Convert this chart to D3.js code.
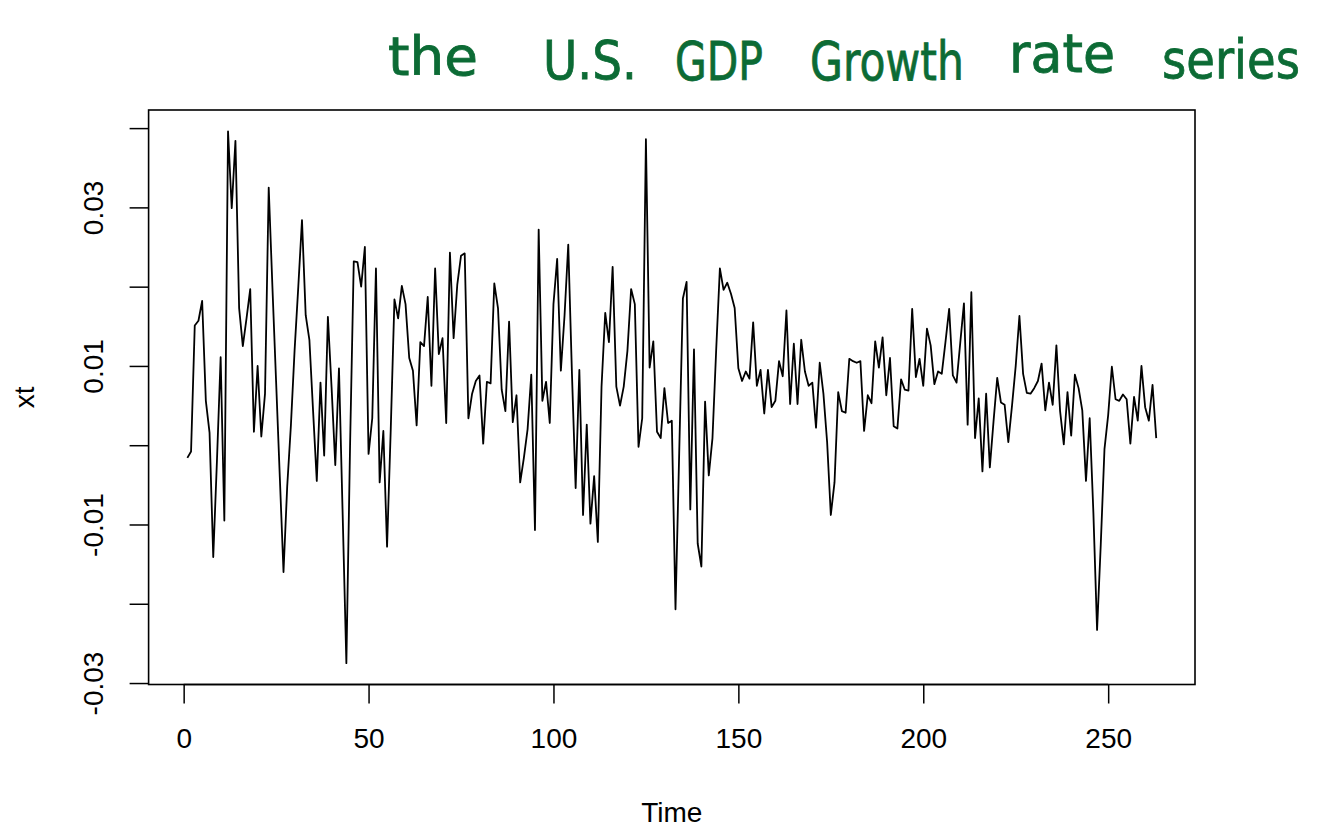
<!DOCTYPE html>
<html>
<head>
<meta charset="utf-8">
<script src="https://cdn.jsdelivr.net/npm/d3@7"></script>
<style>
  body { margin: 0; background: #ffffff; }
  svg { display: block; }
  text { font-family: "Liberation Sans", Arial, Helvetica, sans-serif; }
</style>
</head>
<body>
<div id="chart"></div>
<script>
// quarterly growth rate (t = 1 ... 263)
var gdpGrowth = [
  -0.0016, -0.0008, 0.0151, 0.0157, 0.0182, 0.0056, 0.0016, -0.0141, -0.0020, 0.0111,
  -0.0095, 0.0396, 0.0299, 0.0384, 0.0173, 0.0125, 0.0160, 0.0197, 0.0017, 0.0100,
  0.0011, 0.0065, 0.0325, 0.0200, 0.0080, -0.0040, -0.0160, -0.0052, 0.0025, 0.0120,
  0.0200, 0.0284, 0.0164, 0.0133, 0.0043, -0.0045, 0.0079, -0.0013, 0.0162, 0.0073,
  -0.0025, 0.0097, -0.0088, -0.0275, 0.0000, 0.0232, 0.0231, 0.0200, 0.0250, -0.0011,
  0.0034, 0.0223, -0.0047, 0.0018, -0.0128, 0.0020, 0.0184, 0.0160, 0.0201, 0.0178,
  0.0110, 0.0094, 0.0025, 0.0130, 0.0125, 0.0187, 0.0075, 0.0223, 0.0115, 0.0135,
  0.0028, 0.0243, 0.0135, 0.0203, 0.0239, 0.0242, 0.0034, 0.0065, 0.0081, 0.0088,
  0.0002, 0.0080, 0.0078, 0.0204, 0.0173, 0.0070, 0.0043, 0.0156, 0.0029, 0.0063,
  -0.0047, -0.0016, 0.0020, 0.0089, -0.0107, 0.0272, 0.0056, 0.0080, 0.0028, 0.0178,
  0.0235, 0.0094, 0.0164, 0.0253, 0.0090, -0.0054, 0.0095, -0.0088, 0.0026, -0.0099,
  -0.0039, -0.0122, 0.0074, 0.0167, 0.0130, 0.0225, 0.0074, 0.0050, 0.0074, 0.0119,
  0.0197, 0.0178, -0.0002, 0.0034, 0.0386, 0.0098, 0.0131, 0.0017, 0.0009, 0.0072,
  0.0028, 0.0031, -0.0207, -0.0010, 0.0185, 0.0206, -0.0081, 0.0121, -0.0124, -0.0153,
  0.0055, -0.0038, 0.0009, 0.0120, 0.0223, 0.0196, 0.0205, 0.0191, 0.0173, 0.0097,
  0.0081, 0.0093, 0.0084, 0.0155, 0.0075, 0.0095, 0.0040, 0.0095, 0.0048, 0.0056,
  0.0106, 0.0087, 0.0170, 0.0052, 0.0128, 0.0052, 0.0133, 0.0093, 0.0075, 0.0079,
  0.0022, 0.0104, 0.0065, 0.0004, -0.0088, -0.0047, 0.0067, 0.0043, 0.0041, 0.0109,
  0.0106, 0.0104, 0.0106, 0.0018, 0.0063, 0.0053, 0.0131, 0.0098, 0.0136, 0.0063,
  0.0110, 0.0024, 0.0021, 0.0083, 0.0070, 0.0069, 0.0172, 0.0086, 0.0109, 0.0075,
  0.0147, 0.0126, 0.0077, 0.0093, 0.0090, 0.0130, 0.0172, 0.0088, 0.0079, 0.0129,
  0.0179, 0.0026, 0.0193, 0.0009, 0.0059, -0.0033, 0.0065, -0.0028, 0.0030, 0.0085,
  0.0054, 0.0051, 0.0004, 0.0050, 0.0100, 0.0163, 0.0090, 0.0066, 0.0065, 0.0072,
  0.0081, 0.0103, 0.0044, 0.0079, 0.0051, 0.0126, 0.0043, 0.0001, 0.0067, 0.0012,
  0.0089, 0.0072, 0.0044, -0.0045, 0.0034, -0.0085, -0.0233, -0.0125, -0.0005, 0.0038,
  0.0099, 0.0058, 0.0056, 0.0064, 0.0058, 0.0002, 0.0061, 0.0031, 0.0100, 0.0048,
  0.0031, 0.0076, 0.0009
];

var xTicks = [0, 50, 100, 150, 200, 250];
var yTicks = [-0.03, -0.02, -0.01, 0, 0.01, 0.02, 0.03, 0.04];
var yTickLabels = ["-0.03", "", "-0.01", "", "0.01", "", "0.03", ""];
var titleWords = ["the", "U.S.", "GDP", "Growth", "rate", "series"];
var xTitle = "Time";
var yTitle = "xt";

var outerWidth = 1322,
  outerHeight = 829,
  box = {left: 148.6, right: 1195, top: 110, bottom: 684.5};

// where each handwritten word sits: [left, width, baseline]
var titleLayout = [[388, 90, 75], [543, 94, 79], [675, 88, 80], [810, 154, 80], [1009, 106, 72], [1162, 138, 78]];

window.onload = function() {
  var svg = d3.select("#chart").append("svg")
    .attr("width", outerWidth)
    .attr("height", outerHeight);

  var scales = makeScales(gdpGrowth);
  drawAxes(svg, scales[0], scales[1]);
  drawSeries(svg, scales[0], scales[1], gdpGrowth);
  drawTitle(svg);
};

// R style limits: data range stretched by 4% each side
function makeScales(values) {
  var n = values.length;
  var padX = 0.04 * (n - 1);
  var ext = d3.extent(values);
  var padY = 0.04 * (ext[1] - ext[0]);

  var xScale = d3.scaleLinear()
    .domain([1 - padX, n + padX])
    .range([box.left, box.right]);

  var yScale = d3.scaleLinear()
    .domain([ext[0] - padY, ext[1] + padY])
    .range([box.bottom, box.top]);

  return [xScale, yScale];
}

function drawAxes(svg, xScale, yScale) {
  var xAxis = d3.axisBottom(xScale)
    .tickValues(xTicks)
    .tickSize(19)
    .tickPadding(18)
    .tickSizeOuter(0);

  var yAxis = d3.axisLeft(yScale)
    .tickValues(yTicks)
    .tickSize(19)
    .tickSizeOuter(0)
    .tickFormat(function(d, i) { return yTickLabels[i]; });

  var gx = svg.append("g")
    .attr("transform", "translate(0," + box.bottom + ")")
    .call(xAxis);
  gx.select(".domain")
    .attr("d", "M" + xScale(xTicks[0]) + ",0H" + xScale(xTicks[xTicks.length - 1]));

  var gy = svg.append("g")
    .attr("transform", "translate(" + box.left + ",0)")
    .call(yAxis);
  gy.select(".domain").remove();

  svg.selectAll(".tick line").attr("stroke", "#000").attr("stroke-width", 1.5);
  svg.selectAll(".domain").attr("stroke", "#000").attr("stroke-width", 1.5);

  gx.selectAll("text")
    .attr("font-size", "28px")
    .attr("fill", "#000")
    .attr("dy", "0.95em");

  gy.selectAll(".tick text")
    .attr("font-size", "28px")
    .attr("fill", "#000")
    .attr("x", null)
    .attr("dy", null)
    .attr("text-anchor", "middle")
    .attr("transform", "translate(-46,0) rotate(-90)");

  // plot frame
  svg.append("rect")
    .attr("x", box.left)
    .attr("y", box.top)
    .attr("width", box.right - box.left)
    .attr("height", box.bottom - box.top)
    .attr("fill", "none")
    .attr("stroke", "#000")
    .attr("stroke-width", 1.6);

  svg.append("text")
    .attr("x", (box.left + box.right) / 2)
    .attr("y", 822)
    .attr("text-anchor", "middle")
    .attr("font-size", "28px")
    .text(xTitle);

  svg.append("text")
    .attr("transform", "translate(34," + ((box.top + box.bottom) / 2) + ") rotate(-90)")
    .attr("text-anchor", "middle")
    .attr("font-size", "28px")
    .text(yTitle);
}

function drawSeries(svg, xScale, yScale, values) {
  var line = d3.line()
    .x(function(d, i) { return xScale(i + 1); })
    .y(function(d) { return yScale(d); });

  svg.append("path")
    .datum(values)
    .attr("d", line)
    .attr("fill", "none")
    .attr("stroke", "#000")
    .attr("stroke-width", 1.8)
    .attr("stroke-linejoin", "round");
}

// handwritten title: each word stretched horizontally to its spot
function drawTitle(svg) {
  var words = svg.selectAll("text.title")
    .data(titleWords)
    .enter().append("text")
    .attr("class", "title")
    .attr("font-size", "40px")
    .attr("fill", "#0c6b35")
    .attr("stroke", "#0c6b35")
    .attr("stroke-width", 0.6)
    .style("font-family", "'DejaVu Sans', sans-serif")
    .text(function(d) { return d; });

  words.each(function(d, i) {
    var natural = this.getComputedTextLength();
    var sx = titleLayout[i][1] / natural;
    d3.select(this)
      .attr("transform", "translate(" + titleLayout[i][0] + "," + titleLayout[i][2] + ") scale(" + sx + ",1.35)");
  });
}
</script>
</body>
</html>
